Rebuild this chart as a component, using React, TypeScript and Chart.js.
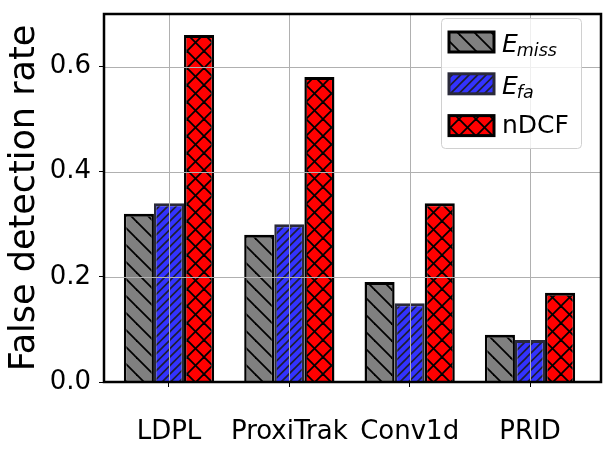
import { useEffect, useRef } from 'react';
import { Chart, registerables } from 'chart.js';

Chart.register(...registerables);

const methods = ['LDPL', 'ProxiTrak', 'Conv1d', 'PRID'];
const eMiss = [0.32, 0.28, 0.19, 0.09];
const eFa = [0.34, 0.3, 0.15, 0.08];
const nDcf = [0.66, 0.58, 0.34, 0.17];
const yTicks = [0, 0.2, 0.4, 0.6];
const legendLabels = [
  { main: 'E', sub: 'miss' },
  { main: 'E', sub: 'fa' },
  { main: 'nDCF', sub: '' },
];

const FONT = '"DejaVu Sans"';

// hatch tile: `lines` parallel lines per tile, anchored at canvas origin
function makePattern(kind: 'back' | 'fwd' | 'cross', bg: string, line: string, size: number, lines: number, lw: number) {
  const c = document.createElement('canvas');
  c.width = size;
  c.height = size;
  const g = c.getContext('2d')!;
  g.fillStyle = bg;
  g.fillRect(0, 0, size, size);
  g.strokeStyle = line;
  g.lineWidth = lw;
  const s = size;
  const step = s / lines;
  if (kind === 'fwd' || kind === 'cross') {
    for (let k = 0; k <= 2 * s + 0.01; k += step) {
      g.beginPath();
      g.moveTo(-s, k + s);
      g.lineTo(2 * s, k - 2 * s);
      g.stroke();
    }
  }
  if (kind === 'back' || kind === 'cross') {
    for (let k = -s; k <= s + 0.01; k += step) {
      g.beginPath();
      g.moveTo(-s, k - s);
      g.lineTo(2 * s, k + 2 * s);
      g.stroke();
    }
  }
  return g.createPattern(c, 'repeat')!;
}

export default function App() {
  const canvasRef = useRef<HTMLCanvasElement>(null);

  useEffect(() => {
    document.body.style.margin = '0';
    if (!canvasRef.current) return;

    const grayPat = makePattern('back', '#808080', '#000000', 17, 1, 1.8);
    const bluePat = makePattern('fwd', '#3333ff', '#1e1e30', 17, 2, 1.6);
    const redPat = makePattern('cross', '#ff0000', '#000000', 17, 1, 1.8);
    const fills = [grayPat, bluePat, redPat];
    const edges = ['#000000', '#2a2a3a', '#000000'];

    const gridAndFrame = {
      id: 'gridAndFrame',
      afterDatasetsDraw(chart: any) {
        const { ctx, chartArea: a, scales } = chart;
        ctx.save();
        ctx.strokeStyle = '#b0b0b0';
        ctx.lineWidth = 1;
        methods.forEach((_, i) => {
          const x = Math.round(scales.x.getPixelForValue(i)) + 0.5;
          ctx.beginPath();
          ctx.moveTo(x, a.top);
          ctx.lineTo(x, a.bottom);
          ctx.stroke();
        });
        yTicks.slice(1).forEach((v) => {
          const y = Math.round(scales.y.getPixelForValue(v)) + 0.5;
          ctx.beginPath();
          ctx.moveTo(a.left, y);
          ctx.lineTo(a.right, y);
          ctx.stroke();
        });
        ctx.strokeStyle = '#000000';
        ctx.lineWidth = 2.5;
        ctx.strokeRect(a.left, a.top, a.right - a.left, a.bottom - a.top);
        ctx.restore();
      },
    };

    const boxLegend = {
      id: 'boxLegend',
      afterDraw(chart: any) {
        const ctx = chart.ctx;
        ctx.save();
        ctx.beginPath();
        ctx.roundRect(441.5, 18.5, 140, 130, 4);
        ctx.fillStyle = 'rgba(255,255,255,0.8)';
        ctx.fill();
        ctx.strokeStyle = '#d0d0d0';
        ctx.lineWidth = 1;
        ctx.stroke();

        legendLabels.forEach((lab, i) => {
          const top = 32 + i * 41.8;
          ctx.fillStyle = fills[i];
          ctx.fillRect(449, top, 45, 20);
          ctx.strokeStyle = edges[i];
          ctx.lineWidth = 3;
          ctx.strokeRect(449, top, 45, 20);

          ctx.fillStyle = '#000000';
          ctx.textAlign = 'left';
          ctx.textBaseline = 'alphabetic';
          if (lab.sub) {
            const base = top + 20.4;
            ctx.font = `italic 25px ${FONT}`;
            ctx.fillText(lab.main, 502, base);
            const w = ctx.measureText(lab.main).width;
            ctx.font = `italic 17.5px ${FONT}`;
            ctx.fillText(lab.sub, 502 + w - 1, base + 3.5);
          } else {
            ctx.font = `25px ${FONT}`;
            ctx.fillText(lab.main, 502, top + 17.4);
          }
        });
        ctx.restore();
      },
    };

    const series = [eMiss, eFa, nDcf];
    const chart = new Chart(canvasRef.current, {
      type: 'bar',
      data: {
        datasets: series.map((vals, k) => ({
          label: legendLabels[k].main + legendLabels[k].sub,
          data: vals.map((v, i) => ({ x: i, y: v })),
          backgroundColor: fills[k],
          borderColor: edges[k],
          borderWidth: { top: 3, left: 2.5, right: 2.5, bottom: 0 },
          borderSkipped: false,
          categoryPercentage: 0.75,
          barPercentage: 1,
        })),
      },
      options: {
        animation: false,
        responsive: true,
        maintainAspectRatio: false,
        layout: { padding: { top: 14, right: 12, left: 0, bottom: 0 } },
        plugins: {
          legend: { display: false },
          tooltip: { enabled: false },
        },
        scales: {
          x: {
            type: 'linear',
            offset: false,
            min: -0.54,
            max: 3.59,
            afterBuildTicks: (s: any) => {
              s.ticks = methods.map((_, i) => ({ value: i }));
            },
            afterFit: (s: any) => {
              s.height = 76;
              s.paddingLeft = 0;
              s.paddingRight = 0;
            },
            grid: {
              offset: false,
              drawOnChartArea: false,
              drawTicks: true,
              tickLength: 5,
              tickColor: '#000',
              tickWidth: 1,
            },
            border: { display: false },
            ticks: {
              padding: 30,
              color: '#000',
              autoSkip: false,
              maxRotation: 0,
              font: { family: FONT, size: 26 },
              callback: (v: any) => methods[v] ?? '',
            },
          },
          y: {
            min: 0,
            max: 0.7,
            afterBuildTicks: (s: any) => {
              s.ticks = yTicks.map((v) => ({ value: v }));
            },
            afterFit: (s: any) => {
              s.width = 104;
              s.paddingTop = 0;
              s.paddingBottom = 0;
            },
            grid: { drawOnChartArea: false, drawTicks: true, tickLength: 5, tickColor: '#000', tickWidth: 1 },
            border: { display: false },
            title: {
              display: true,
              text: 'False detection rate',
              color: '#000',
              font: { family: FONT, size: 35, lineHeight: 1.2 },
              padding: { top: 4, bottom: 0 },
            },
            ticks: {
              padding: 8,
              color: '#000',
              font: { family: FONT, size: 26, lineHeight: 1 },
              callback: (v: any) => Number(v).toFixed(1),
            },
          },
        },
      },
      plugins: [gridAndFrame, boxLegend],
    });

    return () => chart.destroy();
  }, []);

  return (
    <div style={{ width: 613, height: 458, position: 'relative' }}>
      <canvas ref={canvasRef} />
    </div>
  );
}
